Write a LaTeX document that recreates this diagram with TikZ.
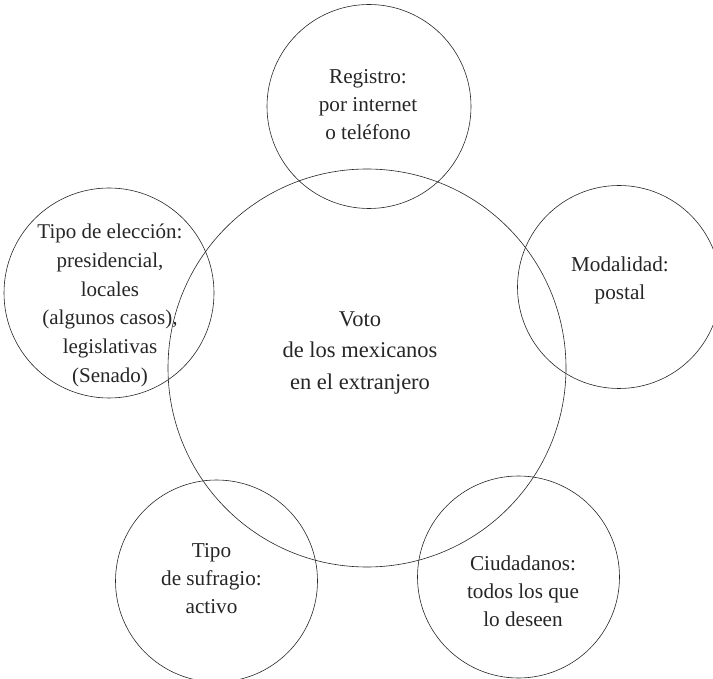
\documentclass[tikz,border=0pt]{standalone}
\usepackage{fontspec}
\setmainfont{Liberation Serif}
\begin{document}
\begin{tikzpicture}[x=1pt,y=-1pt,
  ring/.style={draw=black!85, line width=0.6pt, circle, inner sep=0pt, outer sep=0pt},
  lab/.style={align=center, text=black!85, inner sep=0pt, font=\fontsize{21.2}{28}\selectfont},
  leftlab/.style={align=center, text=black!85, inner sep=0pt, font=\fontsize{21}{28.8}\selectfont},
  biglab/.style={align=center, text=black!85, inner sep=0pt, font=\fontsize{22.5}{31.5}\selectfont}]
\useasboundingbox (0,0) rectangle (713,679);
\node[ring, minimum size=398pt] (c0) at (367,368) {};
\node[ring, minimum size=204pt] (c1) at (369,106.5) {};
\node[ring, minimum size=210pt] (c2) at (109,293) {};
\node[ring, minimum size=203pt] (c3) at (619,287) {};
\node[ring, minimum size=202pt] (c4) at (216.5,581) {};
\node[ring, minimum size=202pt] (c5) at (518.5,577) {};
\node[biglab] (t0) at (360,353) {Voto\\de los mexicanos\\en el extranjero};
\node[lab] (t1) at (368,105) {Registro:\\por internet\\o teléfono};
\node[leftlab] (t2) at (110,305.5) {Tipo de elección:\\presidencial,\\locales\\(algunos casos),\\legislativas\\(Senado)};
\node[lab] (t3) at (620,280) {Modalidad:\\postal};
\node[lab] (t4) at (211.5,579) {Tipo\\de sufragio:\\activo};
\node[lab] (t5) at (523,591.5) {Ciudadanos:\\todos los que\\lo deseen};
\end{tikzpicture}
\end{document}
